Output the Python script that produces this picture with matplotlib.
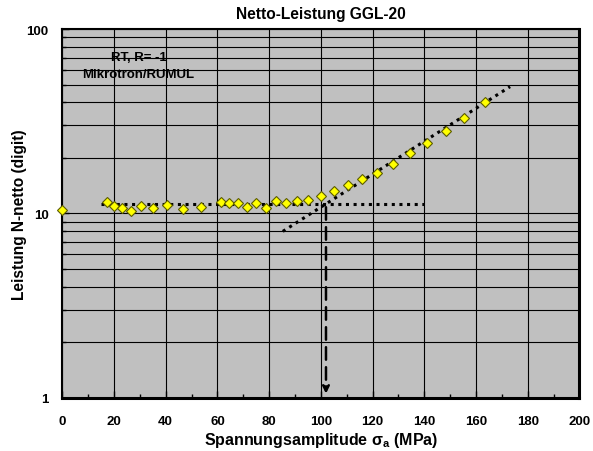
import numpy as np
import matplotlib
matplotlib.use("Agg")
import matplotlib.pyplot as plt
from matplotlib.ticker import FixedLocator, LogLocator, NullFormatter

plt.rcParams['font.family'] = ['Liberation Sans', 'DejaVu Sans']

# Measured net output vs. stress amplitude
stress = [0, 17.4, 20.1, 23.2, 26.6, 30.3, 35.2, 40.4, 46.6, 53.5,
          61.4, 64.6, 67.8, 71.3, 74.8, 78.7, 82.5, 86.5, 90.8, 95.2,
          100.1, 105.1, 110.4, 115.8, 121.9, 128.1, 134.5, 141.0, 148.3,
          155.4, 163.4]
output = [10.4, 11.6, 11.0, 10.7, 10.35, 11.0, 10.7, 11.1, 10.6, 10.8,
          11.6, 11.4, 11.4, 10.9, 11.4, 10.75, 11.7, 11.4, 11.7, 11.8,
          12.5, 13.2, 14.2, 15.4, 16.6, 18.6, 21.3, 24.1, 28.1,
          32.9, 40.4]

# Baseline level and rising trend line
base_x = [15, 140]
base_y = [11.2, 11.2]
trend_x = [85.3, 173.2]
trend_y = [8.0, 48.7]
knee_x = 102.0

fig = plt.figure(figsize=(5.93, 4.52), dpi=100)
ax = fig.add_axes([0.105, 0.1173, 0.872, 0.8163])
ax.set_facecolor('#c0c0c0')
ax.set_yscale('log')
ax.set_xlim(0, 200)
ax.set_ylim(1, 100)

ax.grid(True, which='both', axis='y', color='black', linewidth=0.8)
ax.grid(True, which='major', axis='x', color='black', linewidth=0.8)
ax.set_axisbelow(True)

ax.plot(base_x, base_y, linestyle=(0, (1, 1.5)), color='black', linewidth=2.2, zorder=3)
ax.plot(trend_x, trend_y, linestyle=(0, (1, 1.5)), color='black', linewidth=2.2, zorder=3)
ax.annotate('', xy=(knee_x, 1.02), xytext=(knee_x, base_y[0]),
            arrowprops=dict(arrowstyle='-|>', linestyle=(0, (5, 3)), color='black',
                            linewidth=1.8, mutation_scale=10), zorder=4)

ax.plot(stress, output, linestyle='none', marker='D', markersize=5,
        markerfacecolor='#ffff00', markeredgecolor='#5c5c00', markeredgewidth=0.8,
        zorder=5, clip_on=False)

ax.text(29.5, 70.5, 'RT, R= -1', ha='center', va='center', fontsize=9.5, fontweight='bold')
ax.text(29.5, 57, 'Mikrotron/RUMUL', ha='center', va='center', fontsize=9.5, fontweight='bold')

ax.xaxis.set_major_locator(FixedLocator(np.arange(0, 201, 20)))
ax.xaxis.set_minor_locator(FixedLocator(np.arange(10, 200, 20)))
ax.yaxis.set_major_locator(FixedLocator([1, 10, 100]))
ax.yaxis.set_minor_locator(LogLocator(base=10, subs=np.arange(2, 10)))
ax.yaxis.set_minor_formatter(NullFormatter())
ax.set_yticklabels(['1', '10', '100'])

ax.tick_params(axis='both', which='both', direction='in', color='black')
ax.tick_params(axis='both', which='major', length=5, width=1, labelsize=9.5)
ax.tick_params(axis='x', which='major', pad=12)
ax.tick_params(axis='y', which='major', pad=10)
ax.tick_params(axis='both', which='minor', length=3, width=1)
for lbl in ax.get_xticklabels() + ax.get_yticklabels():
    lbl.set_fontweight('bold')

for side in ['left', 'bottom', 'top', 'right']:
    ax.spines[side].set_linewidth(1.5)
ax.spines['bottom'].set_linewidth(2.2)
ax.spines['right'].set_linewidth(2.2)

ax.set_title('Netto-Leistung GGL-20', fontsize=11.2, fontweight='bold', pad=8)
ax.set_xlabel('Spannungsamplitude σ$_\\mathregular{a}$ (MPa)', fontsize=11.5,
              fontweight='bold')
ax.set_ylabel('Leistung N-netto (digit)', fontsize=11.2, fontweight='bold')
ax.xaxis.set_label_coords(0.5, -0.088)
ax.yaxis.set_label_coords(-0.068, 0.5)

fig.savefig('out.png', dpi=100, facecolor='white')
